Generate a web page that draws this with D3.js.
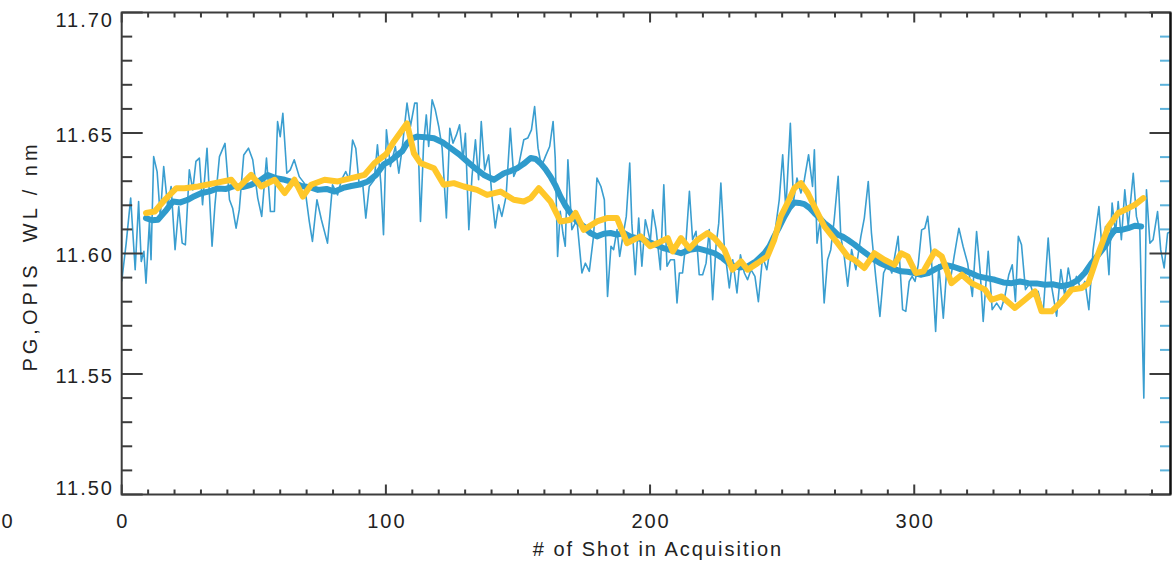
<!DOCTYPE html>
<html>
<head>
<meta charset="utf-8">
<script src="https://cdn.jsdelivr.net/npm/d3@7"></script>
<style>
  body { margin: 0; background: #fff; }
  svg { display: block; font-family: "Liberation Sans", Arial, Helvetica, sans-serif; }
</style>
</head>
<body>
<svg id="chart" width="1174" height="562"></svg>
<script>
// Per-shot wavelength readings [shot, nm]
const rawSignal = [
  [0,11.5884],[1.7,11.6043],[3.4,11.623],[5.1,11.5933],[6.4,11.6216],[7.4,11.5967],[8.4,11.6009],[9.2,11.5877],
  [10.5,11.6133],[11.1,11.5974],[12.1,11.6402],[13.4,11.634],[14.6,11.6154],[15.9,11.6361],[17.4,11.6195],[18.7,11.6278],
  [20.2,11.6016],[21.6,11.6195],[22.9,11.6043],[24.1,11.6036],[25.6,11.6347],[26.9,11.6264],[28.1,11.6382],[29.4,11.6396],
  [30.6,11.6202],[32.3,11.6437],[34.2,11.603],[35.3,11.6202],[37,11.6402],[39.1,11.6457],[40.8,11.6223],[42,11.6188],
  [43.3,11.6105],[44.5,11.6181],[46.2,11.6409],[48,11.6437],[49.6,11.6389],[51.5,11.623],[53,11.6154],[54.8,11.6396],
  [56.3,11.6174],[57.8,11.6174],[59,11.6547],[60,11.6485],[61,11.6582],[62.5,11.6333],[63.8,11.6347],[65.3,11.6389],
  [67.2,11.6319],[69.1,11.6292],[71,11.6133],[72.2,11.605],[73.9,11.6223],[75.6,11.614],[77.9,11.6043],[79.8,11.6285],
  [81.7,11.6243],[83.2,11.6306],[84.8,11.634],[86.1,11.6306],[87.4,11.6471],[88.6,11.6437],[89.9,11.6285],[91.2,11.6292],
  [92.4,11.6147],[93.7,11.6278],[95.6,11.6306],[96.8,11.6451],[98.1,11.6292],[99.1,11.6078],
  [100.2,11.6513],[101.7,11.6361],[103.6,11.6444],[104.9,11.6333],[106.1,11.643],[108,11.6624],[109.3,11.6527],[110.9,11.6624],
  [111.8,11.6624],[113.1,11.6133],[114.3,11.6458],[115.3,11.6575],[116.2,11.6444],[117.5,11.6638],[118.7,11.6596],[120,11.6527],
  [121.3,11.6437],[122.9,11.6147],[124.2,11.652],[125.4,11.6458],[126.7,11.6492],[127.9,11.6534],[129.2,11.6389],[130.1,11.6499],
  [131.4,11.6099],[132.6,11.632],[133.9,11.6472],[135.1,11.6306],[136.1,11.6548],[137.4,11.6347],[138.9,11.6409],[140.2,11.623],
  [141.4,11.6106],[142.7,11.6202],[143.9,11.6154],[145.5,11.6237],[147.1,11.652],[148.4,11.632],[150.3,11.6368],[152.2,11.6472],
  [153.7,11.6479],[155.1,11.6513],[156.3,11.661],[157.6,11.6437],[158.9,11.6361],[160.4,11.6403],[162,11.6444],[163.3,11.6548],
  [164.1,11.6396],[165,11.5988],[166,11.6175],[167,11.6085],[167.9,11.603],[168.9,11.6389],[170.4,11.6099],[172.3,11.614],
  [174.2,11.5919],[175.5,11.596],[177,11.5926],[178.6,11.6071],[179.9,11.6313],[181.4,11.6278],[182.7,11.6223],[183.9,11.5822],
  [185.2,11.603],[186.2,11.6016],[187.5,11.6099],[188.5,11.5988],[189.7,11.6071],[191,11.6154],[192.3,11.6375],[193.1,11.6126],
  [194.4,11.5912],[195.7,11.6147],[196.9,11.5947],[198.2,11.614],
  [199.1,11.6099],[200.1,11.605],[201,11.6181],[202.3,11.6099],[203.9,11.5933],[205.2,11.6285],[206.4,11.5947],[207.7,11.5974],
  [209.2,11.5974],[210.2,11.5795],[211.1,11.5919],[212.3,11.5919],[213.6,11.605],[214.9,11.6258],[216.1,11.6057],[217.4,11.6092],
  [218.6,11.5912],[219.9,11.5912],[221.2,11.596],[222.4,11.6099],[223.7,11.5808],[225,11.6036],[226,11.6126],[226.8,11.6292],
  [228.1,11.6029],[230,11.5857],[231.3,11.5974],[232.9,11.5836],[234.2,11.5995],[235.7,11.5919],[236.9,11.5891],[238.2,11.5933],
  [239.7,11.5905],[241,11.58],[242.6,11.5988],[244.2,11.5933],[245.8,11.6043],[247.4,11.6099],[248.9,11.6223],[250.2,11.641],
  [251.4,11.6181],[253.1,11.654],[254.3,11.6216],[255.6,11.6313],[257.1,11.6251],[258.4,11.6306],[260,11.641],[261.5,11.6278],
  [262.2,11.643],[263.2,11.6043],[264.4,11.614],[265.9,11.5795],[267.2,11.5974],[268.4,11.6016],[269.7,11.614],[271.2,11.632],
  [272.2,11.6071],[273.5,11.5988],[274.8,11.5864],[276.3,11.6016],[277.9,11.5933],[279.8,11.6071],[281.1,11.6147],[282.6,11.6299],
  [283.8,11.6085],[285.4,11.5905],[287,11.5739],[288.4,11.5919],[290.1,11.596],[291.5,11.5919],[292.4,11.5974],[293.9,11.6071],
  [295.6,11.5767],[296.8,11.576],[298.1,11.5884],
  [299.2,11.5905],[300.3,11.5884],[301.5,11.5953],[302.8,11.6098],[304,11.6105],[305.1,11.6154],[306.3,11.6015],[308.1,11.5677],
  [309.3,11.5953],[311,11.5732],[312.2,11.5919],[313.5,11.5877],[315.1,11.5988],[316.9,11.6105],[318.5,11.6029],[320.2,11.596],
  [322,11.5822],[323.6,11.6091],[324.9,11.5933],[326.1,11.5718],[328,11.6009],[329.5,11.5767],[331.2,11.5794],[332.8,11.5767],
  [334.3,11.5822],[335.8,11.5912],[337.1,11.5953],[338.3,11.5801],[339.4,11.6071],[340.6,11.6036],[342.1,11.585],[343.8,11.5877],
  [345.4,11.5822],[346.9,11.5843],[348.8,11.5753],[350.7,11.6064],[352,11.5864],[353.9,11.574],[355.5,11.5933],[357,11.5822],
  [358.3,11.594],[359.8,11.585],[361.4,11.5905],[363.1,11.585],[364.6,11.5884],[366.1,11.5767],[367.7,11.6015],[369.9,11.6195],
  [371.1,11.6015],[372.4,11.6112],[373.7,11.5912],[374.9,11.6209],[376.2,11.6084],[377.2,11.6216],[378.4,11.6057],[379.7,11.6264],
  [381,11.6112],[382.9,11.6333],[384.1,11.6154],[385.4,11.6098],[386.9,11.54],[387.9,11.6264],[389.2,11.6043],[390.4,11.6057],
  [392.1,11.6174],[393.3,11.6015],[394.6,11.594],[395.9,11.6084],[396.9,11.6091]
];

// Running mean of the per-shot readings [shot, nm]
const smoothSignal = [
  [9.2,11.6147],[11.5,11.6138],[13.7,11.614],[16.5,11.6175],[19.4,11.6216],[22.2,11.6212],[25,11.6223],[27.5,11.6238],
  [30,11.625],[33.2,11.6258],[36.4,11.627],[39.5,11.6268],[42.7,11.628],[45.8,11.6276],[49,11.6285],[52.2,11.6302],
  [55.3,11.6326],[58.5,11.6312],[61.7,11.6306],[64.8,11.6296],[68,11.628],[71.2,11.6275],[74.3,11.6264],[77.5,11.6268],
  [80.6,11.6257],[83.8,11.6272],[86.9,11.628],[90,11.6286],[93.2,11.6299],[96.2,11.6325],[99.3,11.6371],[101.8,11.6385],
  [104.3,11.6408],[106.2,11.6425],[108,11.6457],[109.9,11.6478],[111.8,11.6485],[115,11.6482],[118.2,11.6478],[121.4,11.6462],
  [124.5,11.6437],[127.7,11.6412],[130.8,11.6382],[134,11.6352],[137.1,11.6326],[140.9,11.6306],[144.7,11.6333],[147.2,11.6342],
  [149.7,11.6354],[152.2,11.6372],[154.8,11.6396],[156.7,11.6392],[158.5,11.6375],[160.4,11.635],[162.3,11.6319],[164.2,11.6282],
  [166.1,11.6236],[168,11.6198],[169.9,11.6168],[172.4,11.6132],[174.9,11.6112],[177.4,11.6085],[179.9,11.6071],[182.5,11.6082],
  [185,11.6085],[187.5,11.6078],[190,11.6085],[192.6,11.607],[195.1,11.6064],[197.4,11.6058],[199.6,11.6047],[202.5,11.6035],
  [205.4,11.6021],[208.5,11.6012],[211.7,11.6001],[214.9,11.6015],[218,11.6021],[221.2,11.6012],[224.4,11.6001],[227.5,11.598],
  [230.6,11.5953],[233.8,11.5942],[236.9,11.5946],[240.1,11.5968],[243.3,11.6001],[245.2,11.603],[247,11.6071],[249,11.6112],
  [250.9,11.6154],[252.8,11.619],[254.6,11.6212],[256.5,11.621],[258.4,11.6205],[260.3,11.619],[262.2,11.6168],[264.1,11.6148],
  [266,11.6126],[268.5,11.6105],[271,11.6078],[272.9,11.607],[274.8,11.6057],[277.3,11.6038],[279.8,11.6016],[282.4,11.5995],
  [284.9,11.5974],[287.4,11.5958],[289.9,11.5946],[292.5,11.5935],[295,11.5926],[297.5,11.5924],[300,11.5919],[302.7,11.5912],
  [305.3,11.5919],[308.5,11.5938],[311.6,11.5953],[314.8,11.5945],[318,11.5933],[321.2,11.592],[324.3,11.5905],[327.4,11.5898],
  [330.5,11.5891],[333.7,11.588],[336.9,11.5877],[340,11.5884],[343.2,11.5877],[346.3,11.5876],[349.5,11.587],[352.7,11.5872],
  [355.8,11.5864],[359,11.5872],[362.1,11.5891],[364.6,11.592],[367.1,11.596],[369.7,11.5995],[372.2,11.603],[374,11.6068],
  [375.9,11.6098],[378.5,11.6098],[381,11.6105],[383.5,11.6115],[385.9,11.6112]
];

// Reference wavelength track [shot, nm]
const referenceSignal = [
  [9.2,11.6168],[12.5,11.6174],[16.3,11.6223],[20.7,11.6271],[23.8,11.6271],[28.9,11.6278],[35.2,11.6292],[41.5,11.6306],
  [44,11.6271],[49,11.6326],[52.8,11.6278],[57.9,11.6306],[61.7,11.6251],[65.4,11.6306],[68.6,11.6236],[71.7,11.6285],
  [76.8,11.6306],[81.8,11.6299],[86.9,11.6313],[91.9,11.6326],[95.7,11.6375],[100.1,11.6412],[103,11.6464],[108,11.654],
  [110.6,11.6416],[113.1,11.6375],[118.2,11.6354],[121.9,11.6285],[125.7,11.6292],[129.5,11.6278],[134.5,11.6264],[138.3,11.6243],
  [143.4,11.6257],[148.4,11.6223],[152.2,11.6216],[154.8,11.623],[157.9,11.6271],[162.3,11.6216],[166.1,11.6133],[169.9,11.614],
  [171.8,11.6168],[174.9,11.6098],[179.9,11.6133],[183.7,11.6147],[187.5,11.6147],[191.3,11.6043],[196.4,11.6071],[200,11.603],
  [202.9,11.6043],[206.7,11.6064],[208.6,11.6009],[211.7,11.6064],[214.9,11.6021],[218,11.6057],[221.8,11.6085],[224.3,11.6064],
  [228.1,11.6016],[231.2,11.5933],[234.4,11.5967],[236.9,11.5933],[240.7,11.596],[244.4,11.5988],[247,11.6057],[249.5,11.6154],
  [252,11.6209],[254.6,11.6271],[257.1,11.6292],[259.7,11.6251],[262.2,11.6195],[266,11.6112],[271,11.6043],[274.8,11.5988],
  [277.3,11.5974],[281.1,11.594],[284.9,11.6001],[288.7,11.5974],[292.5,11.5953],[295,11.6001],[297.5,11.5988],[300.6,11.5919],
  [303.5,11.5926],[307.8,11.6009],[310.4,11.5988],[314.1,11.5877],[318,11.5912],[321.7,11.5877],[326.8,11.585],[329.3,11.5808],
  [333.1,11.5822],[338.1,11.5774],[341.9,11.5808],[345.7,11.5843],[348.2,11.576],[352,11.576],[355.8,11.5801],[359.6,11.585],
  [363.4,11.5857],[365.9,11.5877],[369.7,11.6001],[373.5,11.6112],[377.2,11.6168],[381,11.6188],[383.5,11.6202],[386.7,11.623]
];

const xMajorTicks = [0, 100, 200, 300];
const yMajorTicks = [11.50, 11.55, 11.60, 11.65, 11.70];
const xTitle = "# of Shot in Acquisition";
const yTitle = "PG,OPIS  WL / nm";

// ---- layout ----
const plot = { left: 121.7, right: 1170.5, top: 12.5, bottom: 494.5 };
const axisColor = "#3c3c3c";
const rightMinorColor = "#5cb3dc";
const rawColor = "#3a9ed0";
const smoothColor = "#2f9bcc";
const refColor = "#ffc72a";

const svg = d3.select("#chart");

const x = d3.scaleLinear().domain([0, 397]).range([plot.left, plot.right]);
const y = d3.scaleLinear().domain([11.50, 11.70]).range([plot.bottom, plot.top]);

const xMinor = d3.range(0, 397, 10).filter(v => !xMajorTicks.includes(v));
const yMinor = d3.range(0, 21).map(i => +(11.5 + i * 0.01).toFixed(2))
  .filter(v => !yMajorTicks.some(m => Math.abs(m - v) < 1e-6));

// clip for data
svg.append("defs").append("clipPath").attr("id", "plotClip")
  .append("rect")
  .attr("x", plot.left).attr("y", plot.top)
  .attr("width", plot.right - plot.left).attr("height", plot.bottom - plot.top);

const dataLayer = svg.append("g").attr("clip-path", "url(#plotClip)");

const line = d3.line().x(d => x(d[0])).y(d => y(d[1]));

dataLayer.append("path").datum(rawSignal)
  .attr("d", line).attr("fill", "none")
  .attr("stroke", rawColor).attr("stroke-width", 1.6)
  .attr("stroke-linejoin", "round");

dataLayer.append("path").datum(smoothSignal)
  .attr("d", line).attr("fill", "none")
  .attr("stroke", smoothColor).attr("stroke-width", 6)
  .attr("stroke-linejoin", "round").attr("stroke-linecap", "round");

dataLayer.append("path").datum(referenceSignal)
  .attr("d", line).attr("fill", "none")
  .attr("stroke", refColor).attr("stroke-width", 6)
  .attr("stroke-linejoin", "round").attr("stroke-linecap", "round");

// ---- ticks ----
const ticks = svg.append("g").attr("stroke-width", 2);

// left: inward ticks
yMajorTicks.forEach(v => ticks.append("line")
  .attr("x1", plot.left).attr("x2", plot.left + 21)
  .attr("y1", y(v)).attr("y2", y(v)).attr("stroke", axisColor));
yMinor.forEach(v => ticks.append("line")
  .attr("x1", plot.left).attr("x2", plot.left + 10.5)
  .attr("y1", y(v)).attr("y2", y(v)).attr("stroke", axisColor));

// right: inward ticks, minors drawn in blue
yMajorTicks.forEach(v => ticks.append("line")
  .attr("x1", plot.right).attr("x2", plot.right - 21)
  .attr("y1", y(v)).attr("y2", y(v)).attr("stroke", axisColor));
yMinor.forEach(v => ticks.append("line")
  .attr("x1", plot.right).attr("x2", plot.right - 10.5)
  .attr("y1", y(v)).attr("y2", y(v)).attr("stroke", rightMinorColor));

// bottom & top
[[plot.bottom, -1], [plot.top, 1]].forEach(([yy, dir]) => {
  xMajorTicks.forEach(v => ticks.append("line")
    .attr("x1", x(v)).attr("x2", x(v))
    .attr("y1", yy).attr("y2", yy + dir * 10).attr("stroke", axisColor));
  xMinor.forEach(v => ticks.append("line")
    .attr("x1", x(v)).attr("x2", x(v))
    .attr("y1", yy).attr("y2", yy + dir * 5).attr("stroke", axisColor));
});

// frame
svg.append("rect")
  .attr("x", plot.left).attr("y", plot.top)
  .attr("width", plot.right - plot.left).attr("height", plot.bottom - plot.top)
  .attr("fill", "none").attr("stroke", axisColor).attr("stroke-width", 2);
svg.append("line")
  .attr("x1", plot.right).attr("x2", plot.right)
  .attr("y1", plot.top).attr("y2", plot.bottom)
  .attr("stroke", "#111").attr("stroke-width", 2.2);

// ---- labels ----
const labelStyle = sel => sel
  .attr("font-size", 20).attr("fill", "#222")
  .style("letter-spacing", "2px");

const yLabelNudge = v => (v === 11.70 ? 7.5 : v === 11.50 ? -7 : 1.5);
yMajorTicks.forEach(v => svg.append("text")
  .call(labelStyle)
  .attr("x", 114).attr("y", y(v) + yLabelNudge(v))
  .attr("text-anchor", "end").attr("dominant-baseline", "central")
  .text(d3.format(".2f")(v)));

xMajorTicks.forEach(v => svg.append("text")
  .call(labelStyle)
  .attr("x", x(v) + 1).attr("y", 528)
  .attr("text-anchor", "middle")
  .text(String(v)));

// stray tick label from the neighbouring panel
svg.append("text").call(labelStyle)
  .attr("x", 8).attr("y", 528).attr("text-anchor", "middle").text("0");

svg.append("text").call(labelStyle)
  .attr("x", 658).attr("y", 556)
  .attr("text-anchor", "middle")
  .text(xTitle);

svg.append("text").call(labelStyle)
  .attr("transform", "translate(37,256) rotate(-90)")
  .attr("text-anchor", "middle")
  .style("white-space", "pre")
  .style("letter-spacing", "4px")
  .text(yTitle);
</script>
</body>
</html>
